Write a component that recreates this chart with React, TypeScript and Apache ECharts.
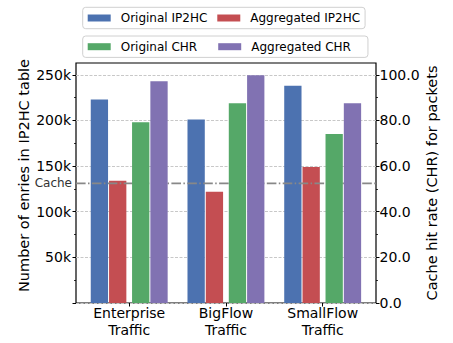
import React, { useEffect, useRef } from "react";
import * as echarts from "echarts";

const categories = ["Enterprise\nTraffic", "BigFlow\nTraffic", "SmallFlow\nTraffic"];
const originalIP2HC = [223000, 201000, 238000];
const aggregatedIP2HC = [134000, 122000, 149000];
const originalCHR = [79.2, 87.6, 74.1];
const aggregatedCHR = [97.2, 99.8, 87.6];
const cacheEntries = 131000;

const leftMax = 263000;
const rightMax = 105.2;
const leftLabelTicks = [50000, 100000, 150000, 200000, 250000];
const leftMajorTicks = [0, 50000, 100000, 150000, 200000, 250000];
const leftMinorTicks = [25000, 75000, 125000, 175000, 225000];
const rightMajorTicks = [0, 20, 40, 60, 80, 100];
const rightMinorTicks = [10, 30, 50, 70, 90];
const spacer = [null, null, null];

const FONT = "DejaVu Sans";

export default function App() {
  const ref = useRef<HTMLDivElement>(null);
  useEffect(() => {
    document.body.style.margin = "0";
    if (!ref.current) return;
    const chart = echarts.init(ref.current, null, { renderer: "svg" });
    const barW = 17.3;
    const gap = "5.8%";
    const legendText = { fontSize: 12, color: "#000", fontFamily: FONT, padding: [0, 0, 0, 5], lineHeight: 12 };
    const cacheLine = categories.map((_, i) =>
      i === 0
        ? {
            value: cacheEntries,
            label: {
              show: true,
              position: "left",
              formatter: "Cache",
              fontSize: 12,
              color: "#333",
              distance: 4,
              fontFamily: FONT,
            },
          }
        : cacheEntries
    );
    chart.setOption({
      animation: false,
      textStyle: { fontFamily: FONT },
      legend: [
        {
          data: ["Original IP2HC", "Aggregated IP2HC"],
          left: 82.7,
          top: 7.3,
          orient: "horizontal",
          itemWidth: 23,
          itemHeight: 7,
          itemGap: 10,
          padding: [4.7, 5, 4.7, 5],
          borderColor: "#d0d0d0",
          borderWidth: 1,
          borderRadius: 3,
          backgroundColor: "#fff",
          icon: "rect",
          selectedMode: false,
          textStyle: legendText,
        },
        {
          data: ["Original CHR", "Aggregated CHR"],
          left: 82.7,
          top: 36,
          orient: "horizontal",
          itemWidth: 23,
          itemHeight: 7,
          itemGap: 21,
          padding: [4.7, 17, 4.7, 5],
          borderColor: "#d0d0d0",
          borderWidth: 1,
          borderRadius: 3,
          backgroundColor: "#fff",
          icon: "rect",
          selectedMode: false,
          textStyle: legendText,
        },
      ],
      grid: [
        { left: 76, top: 63, width: 300, height: 240, show: true, borderColor: "#000", borderWidth: 1.2, backgroundColor: "transparent" },
        { left: 80.84, top: 63, width: 290.2, height: 240, show: false },
      ],
      xAxis: [
        { type: "category", gridIndex: 0, data: categories, show: false, boundaryGap: false },
        {
          type: "category",
          gridIndex: 1,
          data: categories,
          axisLine: { show: false },
          axisTick: { show: true, alignWithLabel: true, length: 3.5, lineStyle: { color: "#000", width: 1 } },
          axisLabel: { fontSize: 14, lineHeight: 16.7, color: "#000", margin: 2, fontFamily: FONT },
          splitLine: { show: false },
        },
      ],
      yAxis: [
        {
          type: "value",
          gridIndex: 0,
          position: "left",
          min: 0,
          max: leftMax,
          interval: 50000,
          name: "Number of enries in IP2HC table",
          nameLocation: "middle",
          nameRotate: 90,
          nameGap: 44.5,
          nameMoveOverlap: false,
          nameTextStyle: { fontSize: 14.5, color: "#000", fontFamily: FONT, padding: [0, 0, 0, 15] },
          axisLine: { show: false },
          axisTick: { show: true, length: 3.5, customValues: leftMajorTicks, lineStyle: { color: "#000", width: 1 } },
          axisLabel: {
            fontSize: 14,
            color: "#000",
            margin: 5,
            fontFamily: FONT,
            customValues: leftLabelTicks,
            formatter: (v: number) => `${Math.round(v / 1000)}k`,
          },
          splitLine: { show: true, lineStyle: { color: "#c8c8c8", width: 1, type: [3, 1.5] } },
        },
        {
          type: "value",
          gridIndex: 0,
          position: "right",
          min: 0,
          max: rightMax,
          interval: 20,
          name: "Cache hit rate (CHR) for packets",
          nameLocation: "middle",
          nameRotate: 90,
          nameGap: 48.5,
          nameMoveOverlap: false,
          nameTextStyle: { fontSize: 14.5, color: "#000", fontFamily: FONT },
          axisLine: { show: false },
          axisTick: { show: true, length: 3.5, customValues: rightMajorTicks, lineStyle: { color: "#000", width: 1 } },
          axisLabel: {
            fontSize: 14,
            color: "#000",
            margin: 3.5,
            fontFamily: FONT,
            customValues: rightMajorTicks,
            formatter: (v: number) => v.toFixed(1),
          },
          splitLine: { show: false },
        },
        { type: "value", gridIndex: 1, min: 0, max: leftMax, show: false, splitLine: { show: false } },
        { type: "value", gridIndex: 1, min: 0, max: rightMax, show: false, splitLine: { show: false } },
        {
          type: "value",
          gridIndex: 0,
          position: "left",
          min: 0,
          max: leftMax,
          interval: 50000,
          axisLine: { show: false },
          axisLabel: { show: false },
          splitLine: { show: false },
          axisTick: { show: true, length: 2, customValues: leftMinorTicks, lineStyle: { color: "#000", width: 0.8 } },
        },
        {
          type: "value",
          gridIndex: 0,
          position: "right",
          min: 0,
          max: rightMax,
          interval: 20,
          axisLine: { show: false },
          axisLabel: { show: false },
          splitLine: { show: false },
          axisTick: { show: true, length: 2, customValues: rightMinorTicks, lineStyle: { color: "#000", width: 0.8 } },
        },
      ],
      series: [
        {
          name: "Original IP2HC",
          type: "bar",
          xAxisIndex: 1,
          yAxisIndex: 2,
          data: originalIP2HC,
          barWidth: barW,
          barGap: gap,
          z: 2,
          itemStyle: { color: "#4C72B0" },
        },
        {
          name: "Aggregated IP2HC",
          type: "bar",
          xAxisIndex: 1,
          yAxisIndex: 2,
          data: aggregatedIP2HC,
          barWidth: barW,
          barGap: gap,
          z: 2,
          itemStyle: { color: "#C44E52" },
        },
        {
          name: "spacer",
          type: "bar",
          xAxisIndex: 1,
          yAxisIndex: 3,
          data: spacer,
          barWidth: 4.44,
          barGap: gap,
          z: 1,
          itemStyle: { color: "transparent" },
        },
        {
          name: "Original CHR",
          type: "bar",
          xAxisIndex: 1,
          yAxisIndex: 3,
          data: originalCHR,
          barWidth: barW,
          barGap: gap,
          z: 6,
          itemStyle: { color: "#55A868" },
        },
        {
          name: "Aggregated CHR",
          type: "bar",
          xAxisIndex: 1,
          yAxisIndex: 3,
          data: aggregatedCHR,
          barWidth: barW,
          barGap: gap,
          z: 6,
          itemStyle: { color: "#8172B2" },
        },
        {
          name: "cache",
          type: "line",
          xAxisIndex: 0,
          yAxisIndex: 0,
          data: cacheLine,
          z: 4,
          silent: true,
          symbol: "circle",
          symbolSize: 0,
          showSymbol: true,
          itemStyle: { color: "#888" },
          lineStyle: { color: "#888", width: 1.8, type: [9.6, 2.4, 1.5, 2.4] },
          label: { show: false },
        },
      ],
    });
    return () => chart.dispose();
  }, []);
  return <div ref={ref} style={{ width: 453, height: 343 }} />;
}
